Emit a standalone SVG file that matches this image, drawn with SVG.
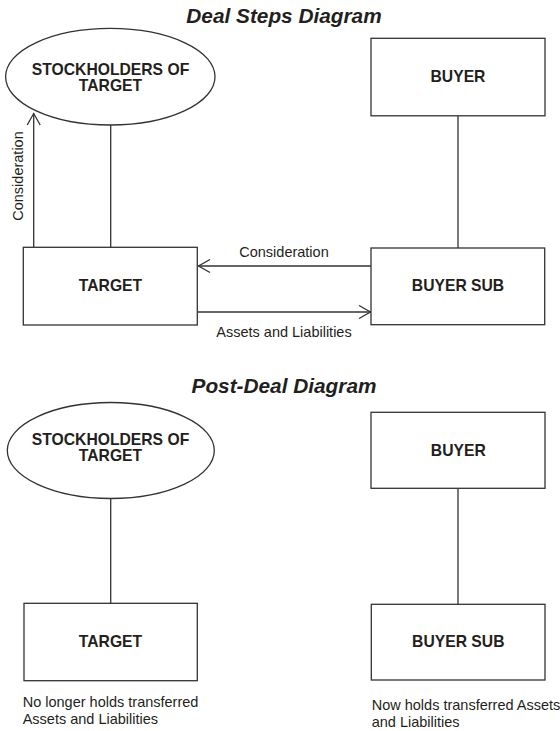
<svg xmlns="http://www.w3.org/2000/svg" width="560" height="731" viewBox="0 0 560 731">
  <style>
    .title { font-family: "Liberation Sans", Arial, sans-serif; font-size: 20.8px; font-weight: bold; font-style: italic; fill: #231f20; text-anchor: middle; }
    .label { font-family: "Liberation Sans", Arial, sans-serif; font-size: 15.7px; font-weight: bold; fill: #231f20; text-anchor: middle; }
    .note { font-family: "Liberation Sans", Arial, sans-serif; font-size: 14.5px; fill: #231f20; }
    .shape { fill: #ffffff; stroke: #333333; stroke-width: 1.3; }
    .link { fill: none; stroke: #333333; stroke-width: 1.3; }
  </style>
  <defs>
    <marker id="chevron" markerUnits="userSpaceOnUse" markerWidth="16" markerHeight="16" viewBox="-13 -8 16 16" refX="0" refY="0" orient="auto">
      <path d="M -11.5 -6.5 L 0 0 L -11.5 6.5" fill="none" stroke="#333333" stroke-width="1.3"/>
    </marker>
  </defs>

  <rect width="560" height="731" fill="#ffffff"/>

  <!-- Section titles -->
  <text class="title" x="284" y="22.5">Deal Steps Diagram</text>
  <text class="title" x="284" y="393">Post-Deal Diagram</text>

  <!-- Connectors -->
  <g id="connectors">
    <!-- deal steps -->
    <line class="link" x1="33.7" y1="247" x2="33.7" y2="113.5" marker-end="url(#chevron)"/>
    <line class="link" x1="110.7" y1="125" x2="110.7" y2="247"/>
    <line class="link" x1="458" y1="116" x2="458" y2="248"/>
    <line class="link" x1="371" y1="266" x2="198.5" y2="266" marker-end="url(#chevron)"/>
    <line class="link" x1="197.5" y1="312" x2="370.5" y2="312" marker-end="url(#chevron)"/>
    <!-- post-deal -->
    <line class="link" x1="110.7" y1="498.5" x2="110.7" y2="603.5"/>
    <line class="link" x1="458" y1="488.5" x2="458" y2="604.5"/>
  </g>

  <!-- Connector labels -->
  <text class="note" x="23" y="176" text-anchor="middle" transform="rotate(-90 23 176)">Consideration</text>
  <text class="note" x="284" y="256.7" text-anchor="middle">Consideration</text>
  <text class="note" x="284" y="337.3" text-anchor="middle">Assets and Liabilities</text>

  <!-- Deal steps nodes -->
  <g id="stockholders-deal">
    <ellipse class="shape" cx="110.3" cy="76.7" rx="104.7" ry="48.3"/>
    <text class="label" x="110.5" y="75">STOCKHOLDERS OF</text>
    <text class="label" x="110.5" y="91.3">TARGET</text>
  </g>
  <g id="buyer-deal">
    <rect class="shape" x="371" y="38.3" width="174" height="77.5"/>
    <text class="label" x="458" y="81.7">BUYER</text>
  </g>
  <g id="target-deal">
    <rect class="shape" x="23.3" y="247.3" width="174" height="77.7"/>
    <text class="label" x="110.5" y="291">TARGET</text>
  </g>
  <g id="buyer-sub-deal">
    <rect class="shape" x="371" y="248" width="173.7" height="76.7"/>
    <text class="label" x="458" y="291">BUYER SUB</text>
  </g>

  <!-- Post-deal nodes -->
  <g id="stockholders-post">
    <ellipse class="shape" cx="110.8" cy="450.5" rx="103.5" ry="48"/>
    <text class="label" x="110.5" y="445">STOCKHOLDERS OF</text>
    <text class="label" x="110.5" y="461">TARGET</text>
  </g>
  <g id="buyer-post">
    <rect class="shape" x="371" y="412.3" width="174" height="76"/>
    <text class="label" x="458.3" y="455.7">BUYER</text>
  </g>
  <g id="target-post">
    <rect class="shape" x="24" y="603.3" width="173.3" height="77.4"/>
    <text class="label" x="110.5" y="647.3">TARGET</text>
    <text class="note" x="22.7" y="706.7">No longer holds transferred</text>
    <text class="note" x="22.7" y="724.3">Assets and Liabilities</text>
  </g>
  <g id="buyer-sub-post">
    <rect class="shape" x="371.3" y="604.3" width="173.7" height="75.7"/>
    <text class="label" x="458.3" y="647.3">BUYER SUB</text>
    <text class="note" x="371.7" y="710">Now holds transferred Assets</text>
    <text class="note" x="371.7" y="726.7">and Liabilities</text>
  </g>
</svg>
